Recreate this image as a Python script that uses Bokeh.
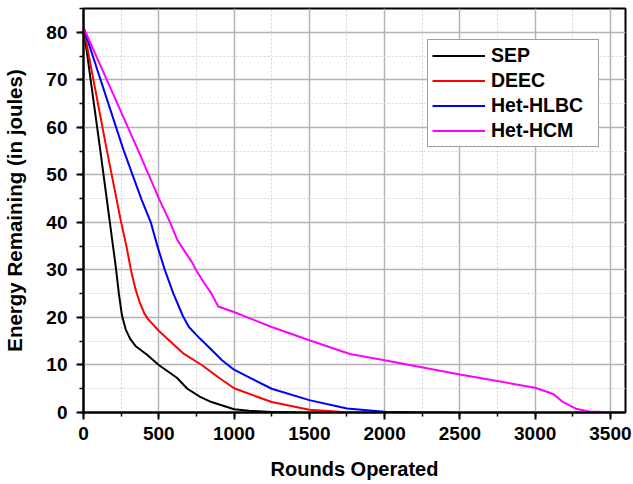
from bokeh.plotting import figure
from bokeh.models import Legend, LegendItem, SingleIntervalTicker, Range1d
from bokeh.embed import file_html
from bokeh.resources import INLINE

# ---- data ----
sep_x = [0, 110, 215, 235, 255, 280, 310, 345, 420, 500, 620, 690, 775, 850, 1000, 1100, 1250, 1415]
sep_y = [81, 55.5, 30.5, 25, 20.5, 17.5, 15.5, 14, 12.2, 10, 7.3, 5, 3.3, 2.2, 0.7, 0.35, 0.12, 0]

deec_x = [0, 150, 250, 285, 315, 345, 375, 405, 430, 500, 575, 660, 785, 900, 1000, 1250, 1500, 1750, 1857]
deec_y = [81, 56, 40, 35, 30, 26, 23, 20.8, 19.6, 17.2, 15, 12.5, 10, 7.3, 5.1, 2.2, 0.6, 0.05, 0]

hlbc_x = [0, 265, 387, 447, 491, 540, 597, 660, 700, 775, 850, 920, 1000, 1250, 1500, 1750, 2000, 2200, 2440]
hlbc_y = [81, 55.3, 44.7, 40, 35, 30, 25, 20.3, 18, 15.5, 13.2, 11, 9, 5, 2.6, 0.85, 0.15, 0.03, 0]

hcm_x = [0, 361, 504, 575, 623, 670, 719, 747, 796, 850, 895, 995, 1105, 1250, 1500, 1770, 2000, 2500, 3000, 3120, 3180, 3270, 3360, 3560]
hcm_y = [81, 55.3, 44.8, 40, 36.3, 34, 31.7, 30, 27.5, 25, 22.3, 21.2, 19.8, 18, 15.2, 12.3, 11, 8, 5.2, 3.9, 2.3, 0.8, 0.2, 0]

series_names = ["SEP", "DEEC", "Het-HLBC", "Het-HCM"]
series_colors = ["black", "#ff0000", "#0000ff", "#ff00ff"]

FONT = "Liberation Sans"

p = figure(width=633, height=484, x_range=Range1d(0, 3600), y_range=Range1d(0, 85),
           output_backend="svg", toolbar_location=None,
           min_border_left=83, min_border_right=8, min_border_top=8, min_border_bottom=72,
           x_axis_label="Rounds Operated", y_axis_label="Energy Remaining (in joules)")

p.outline_line_color = "black"
p.outline_line_width = 2
p.background_fill_color = "white"
p.border_fill_color = "white"

p.xaxis.ticker = SingleIntervalTicker(interval=500, num_minor_ticks=2)
p.yaxis.ticker = SingleIntervalTicker(interval=10, num_minor_ticks=2)

for ax in (p.xaxis[0], p.yaxis[0]):
    ax.axis_line_color = "black"
    ax.axis_line_width = 2
    ax.major_tick_line_color = "black"
    ax.major_tick_line_width = 2
    ax.major_tick_out = 7
    ax.major_tick_in = 0
    ax.minor_tick_line_color = "black"
    ax.minor_tick_line_width = 1.5
    ax.minor_tick_out = 4
    ax.minor_tick_in = 0
    ax.major_label_text_font = FONT
    ax.major_label_text_font_style = "bold"
    ax.major_label_text_font_size = "19px"
    ax.major_label_text_color = "black"
    ax.axis_label_text_font = FONT
    ax.axis_label_text_font_style = "bold"
    ax.axis_label_text_color = "black"

p.xaxis.axis_label_text_font_size = "20px"
p.yaxis.axis_label_text_font_size = "20.5px"
p.xaxis.major_label_standoff = 7
p.xaxis.axis_label_standoff = 15
p.yaxis.major_label_standoff = 9
p.yaxis.axis_label_standoff = 17

for g in (p.xgrid[0], p.ygrid[0]):
    g.grid_line_color = "#b4b4b4"
    g.grid_line_width = 1.5
    g.minor_grid_line_color = "#d4d4d4"
    g.minor_grid_line_width = 1
    g.minor_grid_line_dash = "2 2"

renderers = []
for xs, ys, c in zip([sep_x, deec_x, hlbc_x, hcm_x], [sep_y, deec_y, hlbc_y, hcm_y], series_colors):
    r = p.line(xs, ys, line_color=c, line_width=2)
    renderers.append(r)

legend = Legend(items=[LegendItem(label=n, renderers=[r]) for n, r in zip(series_names, renderers)],
                location=(344, 265))
legend.label_text_font = FONT
legend.label_text_font_style = "bold"
legend.label_text_font_size = "19.5px"
legend.label_text_color = "black"
legend.border_line_color = "#404040"
legend.border_line_width = 1
legend.background_fill_color = "white"
legend.background_fill_alpha = 1
legend.glyph_width = 53
legend.glyph_height = 21
legend.label_height = 21
legend.label_width = 103
legend.label_standoff = 6
legend.padding = 4
legend.spacing = 2
legend.margin = 0
p.add_layout(legend)

open("out.html", "w").write(file_html(p, INLINE))
